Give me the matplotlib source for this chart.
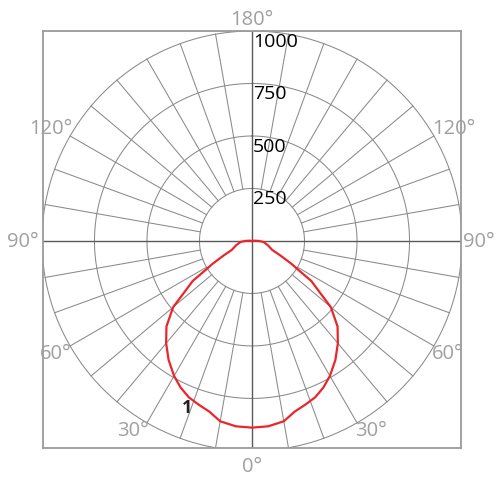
import numpy as np
import matplotlib
matplotlib.use("Agg")
import matplotlib.pyplot as plt

plt.rcParams['font.family'] = ['Open Sans', 'DejaVu Sans']

# Luminous intensity (cd) vs. gamma angle (deg), symmetric about the vertical axis
gamma = [0, 5, 10, 14, 18, 22, 26, 30, 35, 40, 45, 50, 53, 56, 58, 60, 63, 66, 75, 85, 90, 95, 100, 180]
intensity = [889, 886, 872, 838, 820, 803, 776, 742, 692, 636, 576, 490, 400, 340, 260, 215, 150, 106, 78, 55, 33, 15, 5, 0]

ring_values = [250, 500, 750, 1000]
ring_labels = ['250', '500', '750', '1000']
angle_ticks = [0, 30, 60, 90, 120, 180]
angle_labels = ['0°', '30°', '60°', '90°', '120°', '180°']
curve_label = '1'

fig = plt.figure(figsize=(5, 5), dpi=100)
ax = fig.add_axes([43/500, 52/500, 418/500, 417/500])
ax.set_xlim(-995, 995)
ax.set_ylim(-986, 1000)
ax.set_xticks([])
ax.set_yticks([])
for s in ax.spines.values():
    s.set_color('#9a9a9a')
    s.set_linewidth(1.3)

grid_c = '#8a8a8a'
t = np.linspace(0, 2*np.pi, 721)
for r in ring_values:
    ax.plot(r*np.sin(t), r*np.cos(t), color=grid_c, lw=0.75, zorder=1)

rmin, rmax = ring_values[0], ring_values[-1]
for a in range(0, 360, 10):
    if a % 90 == 0:
        continue
    th = np.deg2rad(a)
    ax.plot([rmin*np.sin(th), rmax*np.sin(th)], [-rmin*np.cos(th), -rmax*np.cos(th)],
            color=grid_c, lw=0.75, zorder=1)

ax.axhline(0, color='#5a5a5a', lw=1.0, zorder=2)
ax.axvline(0, color='#5a5a5a', lw=1.0, zorder=2)

# ring labels
for r, lab in zip(ring_values, ring_labels):
    ax.text(5, r - 76, lab, ha='left', va='baseline', fontsize=14, color='black', zorder=4)

# angle labels (both sides)
lab_c = '#a0a0a0'
fs = 14.5
for a, lab in zip(angle_ticks, angle_labels):
    th = np.deg2rad(a)
    ex, ey = rmax*np.sin(th), -rmax*np.cos(th)
    if a == 0:
        ax.text(0, -1100, lab, ha='center', va='baseline', fontsize=fs, color=lab_c, clip_on=False)
    elif a == 180:
        ax.text(0, 1029, lab, ha='center', va='baseline', fontsize=fs, color=lab_c, clip_on=False)
    elif a == 90:
        ax.text(-1014, -29, lab, ha='right', va='baseline', fontsize=fs, color=lab_c, clip_on=False)
        ax.text(1005, -29, lab, ha='left', va='baseline', fontsize=fs, color=lab_c, clip_on=False)
    else:
        dy = 8 if a > 90 else -62
        ax.text(-ex + 9, ey + dy, lab, ha='right', va='baseline', fontsize=fs, color=lab_c, clip_on=False)
        ax.text(ex - 8, ey + dy, lab, ha='left', va='baseline', fontsize=fs, color=lab_c, clip_on=False)

# intensity curve
g = np.deg2rad(np.array(gamma, dtype=float))
v = np.array(intensity, dtype=float)
gg = np.concatenate([-g[::-1], g[1:]])
vv = np.concatenate([v[::-1], v[1:]])
ax.plot(vv*np.sin(gg), -vv*np.cos(gg), color='#e8262b', lw=1.6, zorder=5, solid_joinstyle='round')

ax.text(-333, -819, curve_label, ha='left', va='baseline', fontsize=13, fontweight='bold',
        color='#222222', zorder=6)

fig.savefig('out.png', dpi=100)
